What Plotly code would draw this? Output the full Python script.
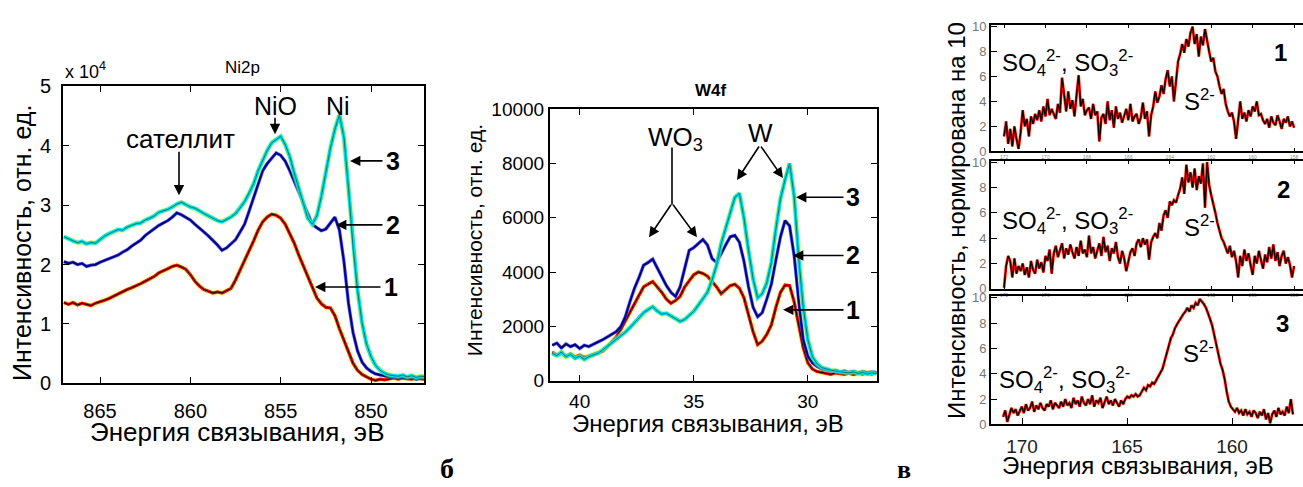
import numpy as np
import plotly.graph_objects as go

W, H = 1303, 487

# ---------------- Ni2p spectra (intensity x 1e4), 867 -> 847 eV -------------
ni_e_range = (867.0, 847.0)
ni_1 = [1.36, 1.33, 1.36, 1.32, 1.35, 1.33, 1.31, 1.35, 1.37, 1.40, 1.43, 1.47, 1.50, 1.55,
        1.58, 1.61, 1.64, 1.68, 1.72, 1.76, 1.80, 1.86, 1.89, 1.93, 1.97, 1.99, 1.96, 1.92,
        1.83, 1.72, 1.64, 1.58, 1.55, 1.52, 1.54, 1.52, 1.56, 1.60, 1.74, 1.90, 2.06, 2.23,
        2.40, 2.58, 2.72, 2.80, 2.85, 2.83, 2.78, 2.68, 2.52, 2.36, 2.16, 1.98, 1.80, 1.60,
        1.44, 1.34, 1.28, 1.27, 1.14, 0.92, 0.72, 0.52, 0.34, 0.22, 0.15, 0.11, 0.07, 0.05,
        0.07, 0.06, 0.08, 0.09, 0.07, 0.09, 0.08, 0.07, 0.09, 0.08, 0.07]
ni_2 = [2.05, 2.02, 2.04, 2.00, 2.02, 1.97, 1.99, 2.00, 2.04, 2.07, 2.10, 2.13, 2.16, 2.21,
        2.25, 2.31, 2.36, 2.41, 2.49, 2.55, 2.60, 2.66, 2.70, 2.74, 2.80, 2.87, 2.84, 2.80,
        2.75, 2.68, 2.62, 2.55, 2.48, 2.41, 2.33, 2.24, 2.28, 2.35, 2.42, 2.55, 2.68, 2.90,
        3.12, 3.36, 3.58, 3.70, 3.80, 3.88, 3.84, 3.74, 3.58, 3.40, 3.22, 3.03, 2.84, 2.68,
        2.62, 2.57, 2.60, 2.70, 2.80, 2.58, 2.05, 1.35, 0.86, 0.55, 0.36, 0.26, 0.20, 0.16,
        0.14, 0.12, 0.11, 0.10, 0.09, 0.11, 0.08, 0.10, 0.07, 0.09, 0.08]
ni_3 = [2.47, 2.43, 2.40, 2.37, 2.39, 2.35, 2.37, 2.36, 2.42, 2.48, 2.52, 2.55, 2.59, 2.58,
        2.63, 2.66, 2.69, 2.70, 2.75, 2.78, 2.82, 2.88, 2.90, 2.93, 2.97, 3.02, 3.05, 3.01,
        2.97, 2.95, 2.90, 2.86, 2.82, 2.78, 2.74, 2.72, 2.76, 2.80, 2.86, 2.95, 3.06, 3.20,
        3.36, 3.58, 3.76, 3.92, 4.05, 4.10, 4.16, 4.02, 3.82, 3.54, 3.30, 3.02, 2.78, 2.68,
        2.82, 3.15, 3.58, 3.96, 4.28, 4.52, 4.14, 3.30, 2.30, 1.58, 1.02, 0.66, 0.45, 0.30,
        0.22, 0.17, 0.14, 0.13, 0.12, 0.14, 0.11, 0.13, 0.10, 0.12, 0.11]

# ---------------- W4f spectra, 41.2 -> 27.0 eV ------------------------------
w_e_range = (41.2, 27.0)
w_1 = [1050, 950, 1000, 900, 980, 870, 940, 850, 900, 960, 1000, 1080, 1230, 1400, 1600,
       1880, 2200, 2550, 2850, 3150, 3450, 3550, 3650, 3450, 3250, 3000, 2850, 2950, 3100,
       3450, 3700, 3900, 4000, 3950, 3850, 3650, 3450, 3200, 3350, 3500, 3550, 3400, 3050,
       2450, 1800, 1320, 1450, 1700, 2050, 2700, 3250, 3520, 3500, 2900, 2050, 1200, 650,
       420, 330, 300, 260, 230, 280, 250, 230, 270, 220, 260, 240, 280, 230, 300]
w_2 = [1300, 1380, 1200, 1350, 1250, 1320, 1180, 1300, 1250, 1350, 1420, 1500, 1600, 1720,
       1800, 1980, 2350, 2900, 3400, 3800, 4250, 4350, 4480, 4150, 3800, 3500, 3250, 3100,
       3450, 4100, 4800, 4900, 5050, 5200, 5000, 4500, 4350, 4700, 5000, 5300, 5350, 5100,
       4400, 3450, 2700, 2350, 2500, 3000, 3550, 4450, 5300, 5900, 5700, 4600, 2900, 1500,
       900, 650, 520, 430, 400, 350, 380, 320, 350, 300, 340, 280, 330, 290, 320, 300]
w_3 = [1000, 920, 1050, 880, 960, 820, 900, 780, 880, 950, 1000, 1120, 1250, 1380, 1500,
       1640, 1780, 1950, 2120, 2300, 2500, 2620, 2720, 2560, 2450, 2480, 2380, 2300, 2180,
       2250, 2400, 2550, 2780, 3000, 3250, 3700, 4250, 5050, 5600, 6150, 6750, 6900, 6000,
       4800, 3750, 3050, 3200, 3600, 4350, 5600, 6700, 7400, 8000, 6800, 4500, 2700, 1500,
       880, 620, 480, 420, 380, 350, 330, 300, 280, 320, 260, 300, 240, 280, 260]

# ---------------- S2p spectra, normalised to 10 -----------------------------
s_top_e_range = (172.0, 158.0)
s_bottom_e_range = (170.9, 157.1)
s_1 = [1.2, 2.4, 0.6, 1.8, 0.4, 2.0, 1.0, 0.2,
       1.5, 3.3, 2.0, 2.6, 1.2,
       2.8, 2.2, 3.0, 2.5, 3.3, 2.4, 3.6, 2.8, 4.2, 2.9, 3.4, 3.0, 2.6, 3.8, 3.1, 5.9,
       4.4, 3.2, 4.8, 3.4, 4.1, 2.8, 4.5, 6.1, 3.6, 4.2, 2.9, 3.3,
       3.5, 2.6, 3.8, 2.9, 3.2, 0.8, 2.7, 3.0,
       2.2, 4.0, 2.5, 3.3, 1.9, 3.6, 2.6, 3.1, 2.3, 2.9, 3.4, 2.5, 3.8, 2.4, 2.8, 3.0,
       2.2, 2.7, 3.9, 2.6, 3.2, 1.2, 2.9,
       3.6, 4.8, 3.9, 4.4, 5.3, 4.6, 5.8,
       6.5, 5.2, 6.0, 4.0, 5.6, 7.2,
       7.8, 8.6, 7.9, 9.0, 8.4, 9.5,
       10.0, 8.6, 9.4, 7.6, 9.2, 8.5, 9.8, 8.8,
       8.0, 7.2, 7.5, 6.4, 6.0, 5.2,
       4.6, 5.0, 3.8, 3.2, 2.8, 3.1, 2.4,
       1.0, 2.5, 4.0, 2.6,
       3.1, 2.4, 3.3, 2.8, 3.6, 3.2, 4.0, 2.9, 3.0, 2.5, 2.2,
       2.6, 1.9, 2.8, 2.3, 2.1, 2.9, 2.4, 1.8, 2.6, 2.3, 2.8, 2.0, 2.4, 1.9]
s_2 = [0.1, 1.8, 2.6, 2.2, 0.9, 2.4, 1.2, 1.8,
       1.4, 2.0, 1.1, 1.7, 0.9, 2.2, 1.5, 1.2, 2.3, 1.6, 2.1, 1.3,
       2.6, 2.2, 3.1, 1.2, 2.8, 3.4, 2.5, 3.0, 3.6, 2.4, 3.2, 2.7, 3.5, 2.9, 2.4, 3.3,
       2.6, 3.8, 2.8, 3.1, 2.5,
       4.2, 2.8, 3.3, 2.4, 3.0, 3.6, 2.6, 4.1, 2.9, 3.4, 2.2, 3.2, 2.8, 3.7, 2.5, 2.0,
       3.0, 2.4, 1.4,
       2.2, 2.9, 3.2, 2.6, 3.6, 3.9, 3.3, 4.0, 3.5, 3.9, 2.3, 3.7, 4.1,
       4.4, 4.0, 5.2, 4.6, 5.8, 6.2, 5.6, 6.9,
       6.6, 7.0, 6.8, 7.4, 7.9, 8.8,
       7.5, 9.8, 8.4, 9.2, 8.0, 9.5, 7.8, 8.9, 8.3, 9.9, 6.4, 10.0, 8.2,
       7.4, 6.8, 6.0, 5.2, 4.6, 4.0, 3.7,
       3.2, 2.8, 3.4, 2.5, 3.0, 2.2, 0.9,
       2.6, 1.8, 3.1, 2.2, 2.8, 1.9, 1.1, 2.6, 2.0, 3.0, 2.3, 1.6, 2.7, 2.1, 3.3, 2.4,
       3.5, 2.2, 2.9, 1.8, 2.6, 3.0, 2.0, 2.5, 1.9, 0.9, 1.8]
s_3 = [0.6, 1.1, 0.2, 0.8, 1.3, 0.9, 1.2, 0.7, 1.0,
       1.4, 0.9, 1.6, 1.1, 1.3, 1.8, 1.0, 1.5, 1.2, 1.7, 1.3, 1.1, 1.6, 1.4, 1.9, 1.2,
       1.7, 1.5, 1.3, 1.8, 1.4, 2.0, 1.5,
       1.7, 1.3, 2.1, 1.6, 1.9, 1.4, 2.2, 1.7, 1.5, 2.0, 1.6, 2.3, 1.4, 1.9, 1.7, 2.1,
       1.3, 1.8, 2.2, 1.6, 1.9, 1.5, 2.0, 1.7, 1.4, 1.9, 1.6,
       2.0, 2.2, 2.1, 2.3, 2.2, 2.4, 2.2, 2.3,
       2.6, 2.9, 2.7, 3.1, 3.0, 3.3, 3.2, 3.5,
       3.9, 4.1, 4.4,
       5.0, 5.6, 6.2, 6.8, 7.1,
       7.6, 7.9, 8.2, 8.4, 8.7,
       8.9, 9.2, 8.9, 9.4, 9.2, 9.6, 9.4, 9.9, 9.7, 9.5,
       9.2, 8.8, 8.3, 7.8, 7.0,
       6.2, 5.5, 4.8, 4.3, 3.6,
       2.6, 1.8, 1.4, 1.2,
       1.0, 1.3, 0.9, 1.1, 0.7, 1.2, 0.8, 1.0, 0.6, 1.1, 0.9, 0.5, 1.0, 0.7, 1.2, 0.4,
       0.9, 0.1, 0.8, 1.1, 0.6, 1.3, 0.8, 1.0, 0.7, 1.4, 0.9, 2.0, 0.8]

ni_ticks = [865, 860, 855, 850]
ni_yticks = [0, 1, 2, 3, 4, 5]
w_ticks = [40, 35, 30]
w_yticks = [0, 2000, 4000, 6000, 8000, 10000]
s_top_ticks = [172, 170, 168, 166, 164, 162, 160, 158]
s_bottom_ticks = [170, 165, 160]
s_yticks = [0, 2, 4, 6, 8, 10]

SANS = "Liberation Sans, Arial, sans-serif"
SERIF = "Liberation Serif, Times New Roman, serif"


def grid(rng, vals):
    return np.linspace(rng[0], rng[1], len(vals))


def px(x):
    return x / W


def py(y):
    return 1 - y / H


fig = go.Figure()


def spectrum(x, y, xa, ya, layers):
    for color, width, opacity in layers:
        fig.add_trace(go.Scatter(x=x, y=y, xaxis=xa, yaxis=ya, mode="lines",
                                 line=dict(color=color, width=width), opacity=opacity,
                                 showlegend=False, hoverinfo="skip"))


RED = [("#ffff30", 5.5, 0.45), ("#ee1010", 3.2, 1.0), ("#000000", 1.0, 1.0)]
BLUE = [("#7070ff", 4.0, 0.35), ("#1a1ad0", 2.8, 1.0), ("#000050", 1.1, 1.0)]
CYAN = [("#b0ff40", 5.5, 0.45), ("#00e0e0", 3.6, 1.0), ("#007a7a", 1.0, 1.0)]
SLINE = [("#ffd070", 4.0, 0.4), ("#ff0000", 2.6, 1.0), ("#000000", 1.2, 1.0)]

# Ni2p
spectrum(grid(ni_e_range, ni_1), ni_1, "x", "y", RED)
spectrum(grid(ni_e_range, ni_2), ni_2, "x", "y", BLUE)
spectrum(grid(ni_e_range, ni_3), ni_3, "x", "y", CYAN)
# W4f
spectrum(grid(w_e_range, w_1), w_1, "x2", "y2", RED)
spectrum(grid(w_e_range, w_2), w_2, "x2", "y2", BLUE)
spectrum(grid(w_e_range, w_3), w_3, "x2", "y2", CYAN)
# S2p
spectrum(grid(s_top_e_range, s_1), s_1, "x3", "y3", SLINE)
spectrum(grid(s_top_e_range, s_2), s_2, "x4", "y4", SLINE)
spectrum(grid(s_bottom_e_range, s_3), s_3, "x5", "y5", SLINE)


def axis(dom, rng, tickvals, font_size, color="black", lw=2, **kw):
    d = dict(domain=dom, range=rng, tickvals=tickvals,
             ticktext=[str(t) for t in tickvals], ticks="inside", ticklen=6,
             tickwidth=1.2, tickcolor="black", mirror="allticks", showline=True,
             linecolor="black", linewidth=lw, showgrid=False, zeroline=False,
             tickfont=dict(family=SANS, size=font_size, color=color), fixedrange=True)
    d.update(kw)
    return d


def xdom(a, b):
    return [px(a), min(px(b), 1.0)]


def ydom(top, bottom):
    return [py(bottom), py(top)]


layout = dict(
    width=W, height=H, margin=dict(l=0, r=0, t=0, b=0),
    paper_bgcolor="white", plot_bgcolor="white", showlegend=False,
    xaxis=axis(xdom(63, 424), [867.05, 847.07], ni_ticks, 20, anchor="y",
               ticklabelstandoff=9),
    yaxis=axis(ydom(79, 390), [0, 5], ni_yticks, 20, anchor="x", ticklabelstandoff=6),
    xaxis2=axis(xdom(550, 877), [41.3, 26.97], w_ticks, 19, anchor="y2",
                ticklabelstandoff=3),
    yaxis2=axis(ydom(103, 387), [0, 10000], w_yticks, 19, anchor="x2"),
    xaxis3=axis(xdom(991, 1303), [172.63, 157.57], s_top_ticks, 5, color="#888",
                anchor="y3", ticklen=3),
    yaxis3=axis(ydom(15, 147), [0, 10.1], s_yticks, 13, color="#777", anchor="x3",
                mirror=False),
    xaxis4=axis(xdom(991, 1303), [172.63, 157.57], s_top_ticks, 5, color="#888",
                anchor="y4", ticklen=3),
    yaxis4=axis(ydom(157, 291), [0, 10.1], s_yticks, 13, color="#777", anchor="x4",
                mirror=False),
    xaxis5=axis(xdom(991, 1303), [171.48, 156.62], s_bottom_ticks, 19, color="#222",
                anchor="y5", ticklabelstandoff=4),
    yaxis5=axis(ydom(299, 433), [0, 10.1], s_yticks, 13, color="#777", anchor="x5",
                mirror=False),
)
fig.update_layout(**layout)

ann = []
shapes = []


def text(x, y, s, size, bold=False, family=SANS, xanchor="center", yanchor="middle",
         angle=0, color="black"):
    if bold:
        s = "<b>" + s + "</b>"
    ann.append(dict(x=px(x), y=py(y), xref="paper", yref="paper", text=s,
                    showarrow=False, xanchor=xanchor, yanchor=yanchor, textangle=angle,
                    font=dict(family=family, size=size, color=color)))


def arrow(x0, y0, x1, y1):
    # head at (x1, y1); tail offset given in screen pixels
    ann.append(dict(x=px(x1), y=py(y1), ax=x0 - x1, ay=y0 - y1, xref="paper",
                    yref="paper", axref="pixel", ayref="pixel", text="", showarrow=True,
                    arrowhead=2, arrowsize=1.3, arrowwidth=1.6, arrowcolor="black"))


def seg(x0, y0, x1, y1):
    shapes.append(dict(type="line", xref="paper", yref="paper", x0=px(x0), y0=py(y0),
                       x1=px(x1), y1=py(y1), line=dict(color="black", width=1.6)))


# ---- Ni2p panel texts
text(63, 62, "x 10<sup>4</sup>", 18, xanchor="left")
text(242, 59, "Ni2p", 17)
text(22, 243, "Интенсивность, отн. ед.", 25, angle=-90)
text(237, 441, "Энергия связывания, эВ", 26)
text(275, 100, "NiO", 25)
text(338, 100, "Ni", 25)
arrow(275, 111, 275, 129)
text(180, 134, "сателлит", 26)
arrow(179, 148, 179, 193)
text(393, 157, "3", 25, bold=True)
arrow(384, 157, 350, 157)
text(393, 224, "2", 25, bold=True)
arrow(384, 224, 336, 224)
text(391, 289, "1", 25, bold=True)
arrow(382, 289, 315, 289)

# ---- W4f panel texts
text(711, 83, "W4f", 17, bold=True)
text(474, 240, "Интенсивность, отн. ед.", 21, angle=-90)
text(708, 432, "Энергия связывания, эВ", 24)
text(675, 134, "WO<sub>3</sub>", 26)
seg(672, 143, 672, 203)
arrow(672, 203, 649, 237)
arrow(672, 203, 697, 237)
text(760, 128, "W", 26)
arrow(760, 142, 737, 177)
arrow(760, 142, 783, 175)
text(853, 195, "3", 25, bold=True)
arrow(845, 195, 796, 195)
text(853, 256, "2", 25, bold=True)
arrow(845, 256, 793, 256)
text(853, 313, "1", 25, bold=True)
arrow(845, 313, 783, 313)

# ---- S2p panel texts
text(956, 220, "Интенсивность, нормирована на 10", 24, angle=-90)
text(1138, 476, "Энергия связывания, эВ", 24)
so = "SO<sub>4</sub><sup>2-</sup>, SO<sub>3</sub><sup>2-</sup>"
text(1000, 54, so, 24, xanchor="left")
text(1000, 220, so, 24, xanchor="left")
text(997, 386, so, 24, xanchor="left")
text(1182, 93, "S<sup>2-</sup>", 24, xanchor="left")
text(1182, 225, "S<sup>2-</sup>", 24, xanchor="left")
text(1181, 357, "S<sup>2-</sup>", 24, xanchor="left")
text(1280, 43, "1", 24, bold=True)
text(1283, 187, "2", 24, bold=True)
text(1282, 327, "3", 24, bold=True)

# ---- panel letters
text(447, 479, "б", 28, bold=True, family=SERIF)
text(904, 480, "в", 26, bold=True, family=SERIF)

fig.update_layout(annotations=ann, shapes=shapes)
fig.write_html("out.html")
